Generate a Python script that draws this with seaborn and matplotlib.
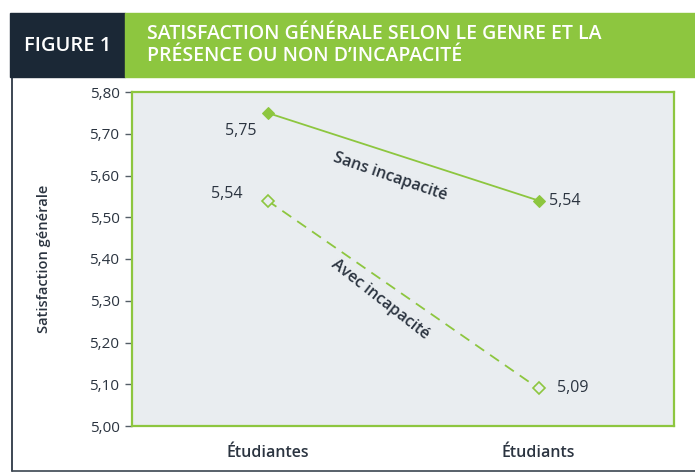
import matplotlib
matplotlib.use("Agg")
import matplotlib.pyplot as plt
import matplotlib.patches as mpatches
import matplotlib.lines as mlines
import pandas as pd
import seaborn as sns

# données
groupes = ["Étudiantes", "Étudiants"]
sans_incapacite = [5.75, 5.54]
avec_incapacite = [5.54, 5.09]
y_ticks = [5.00, 5.10, 5.20, 5.30, 5.40, 5.50, 5.60, 5.70, 5.80]

VERT = "#8DC63F"
MARINE = "#1B2836"
TEXTE = "#2B3440"
FOND = "#E9EDF0"

sns.set_theme(style="white")
plt.rcParams["font.family"] = ["Open Sans", "DejaVu Sans"]

df = pd.DataFrame({
    "groupe": groupes * 2,
    "score": sans_incapacite + avec_incapacite,
    "serie": ["Sans incapacité"] * 2 + ["Avec incapacité"] * 2,
})

fig = plt.figure(figsize=(6.95, 4.76), dpi=100)
W, H = 695, 476

# en-tête
fig.patches.append(mpatches.Rectangle((10 / W, 1 - 77 / H), 115 / W, 64 / H,
                                      transform=fig.transFigure, color=MARINE, zorder=0))
fig.patches.append(mpatches.Rectangle((125 / W, 1 - 77 / H), 570 / W, 64 / H,
                                      transform=fig.transFigure, color=VERT, zorder=0))
fig.text(68 / W, 1 - 46 / H, "FIGURE 1", color="white", fontsize=14.5, fontweight="semibold",
         ha="center", va="center")
fig.text(147 / W, 1 - 45 / H, "SATISFACTION GÉNÉRALE SELON LE GENRE ET LA\nPRÉSENCE OU NON D’INCAPACITÉ",
         color="white", fontsize=14, fontweight="semibold", ha="left", va="center",
         linespacing=1.1)

# cadre
fig.lines.append(mlines.Line2D([12 / W, 12 / W], [1 - 77 / H, 1 - 471 / H],
                               transform=fig.transFigure, color=MARINE, lw=1.2))
fig.lines.append(mlines.Line2D([12 / W, 1.0], [1 - 471 / H, 1 - 471 / H],
                               transform=fig.transFigure, color="#3B4550", lw=1.2))

ax = fig.add_axes([132 / W, 1 - 426 / H, 542 / W, 334 / H])
ax.set_facecolor(FOND)

sans = df[df.serie == "Sans incapacité"]
avec = df[df.serie == "Avec incapacité"]
sns.lineplot(data=sans, x="groupe", y="score", ax=ax, color=VERT, lw=1.3,
             marker="D", markersize=6.5, markerfacecolor=VERT, markeredgecolor=VERT)
sns.lineplot(data=avec, x="groupe", y="score", ax=ax, color=VERT, lw=1.3,
             dashes=(6, 4), marker="D", markersize=6.5,
             markerfacecolor=FOND, markeredgecolor=VERT, markeredgewidth=1.2)

ax.set_xlim(-0.5, 1.5)
ax.set_ylim(5.0, 5.8)
ax.set_yticks(y_ticks)
ax.set_yticklabels([f"{v:.2f}".replace(".", ",") for v in y_ticks])
ax.set_xticks([0, 1])
ax.set_xticklabels(groupes, fontweight="semibold")
ax.set_xticks([-0.5, 0.5, 1.5], minor=True)
ax.tick_params(axis="x", which="major", length=0, pad=14, labelsize=11.5, labelcolor=TEXTE)
ax.tick_params(axis="x", which="minor", length=5, width=1, color="#555E68", direction="out")
ax.tick_params(axis="y", length=5, width=1, color="#555E68", direction="out",
               labelsize=11, labelcolor=TEXTE, pad=4, left=True)
ax.set_xlabel("")
ax.set_ylabel("Satisfaction générale", fontsize=10.5, fontweight="semibold",
              color=TEXTE, labelpad=28)
for s in ax.spines.values():
    s.set_color(VERT)
    s.set_linewidth(1.6)

# valeurs
lab = dict(fontsize=11.5, color=TEXTE, ha="center", va="center",
           fontweight="normal", textcoords="offset points")
ax.annotate("5,75", (0, sans_incapacite[0]), xytext=(-19, -13), **lab)
ax.annotate("5,54", (1, sans_incapacite[1]), xytext=(19, 0), **lab)
ax.annotate("5,54", (0, avec_incapacite[0]), xytext=(-29, 5), **lab)
ax.annotate("5,09", (1, avec_incapacite[1]), xytext=(25, 0), **lab)

ax.text(0.454, 5.596, "Sans incapacité", rotation=-19, fontsize=11.5,
        fontweight="semibold", color=TEXTE, ha="center", va="center")
ax.text(0.417, 5.302, "Avec incapacité", rotation=-38, fontsize=11.5,
        fontweight="semibold", color=TEXTE, ha="center", va="center")

fig.savefig("out.png", dpi=100)
